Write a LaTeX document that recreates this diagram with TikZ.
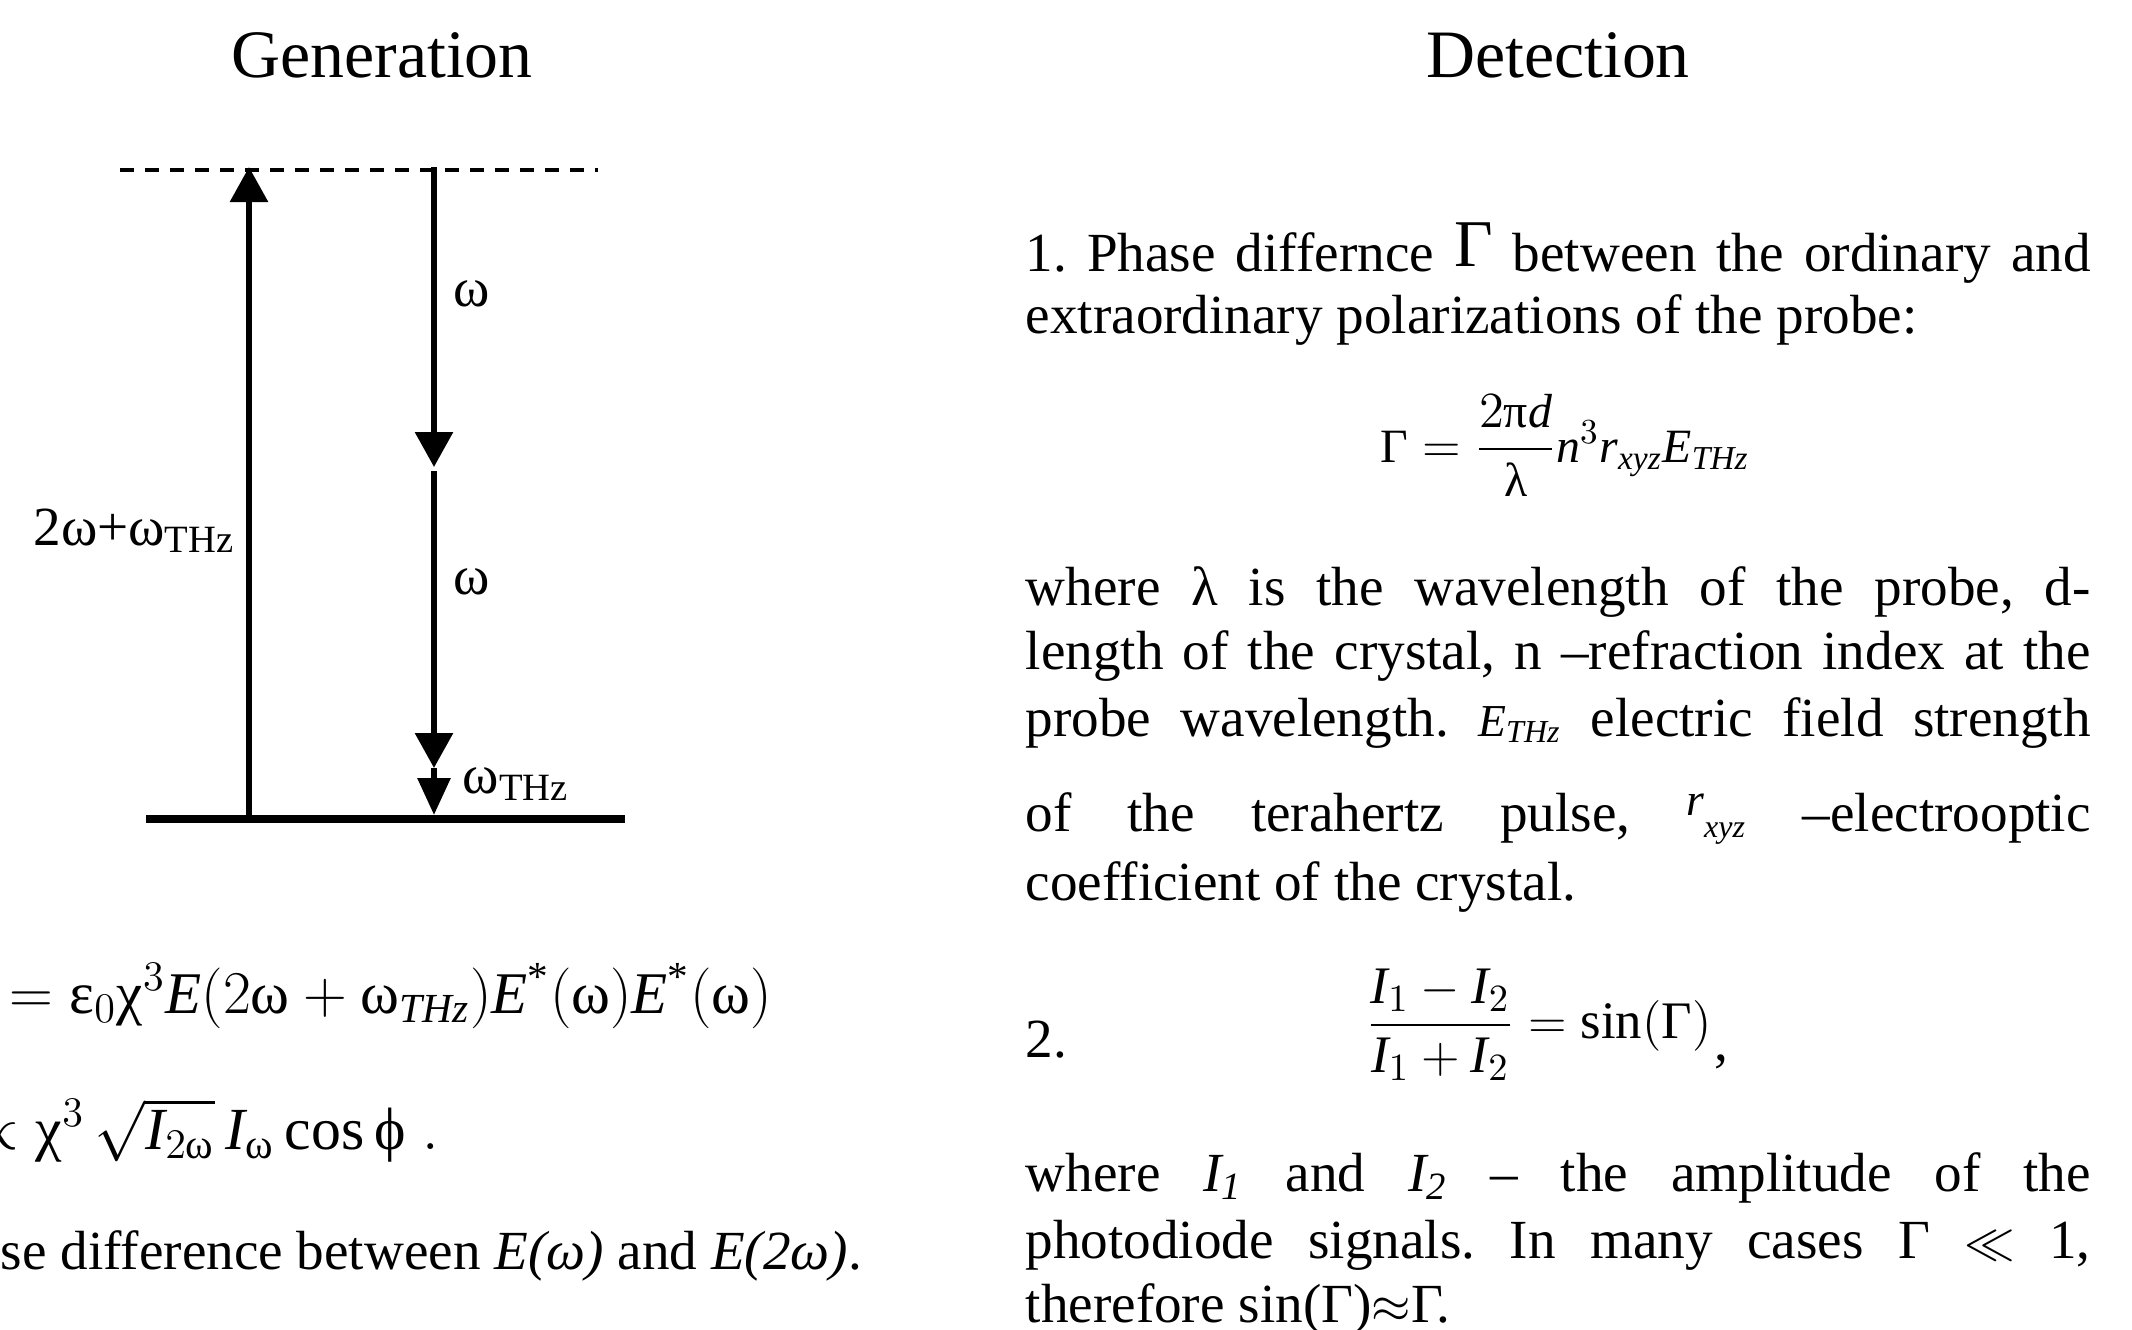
\documentclass[tikz,border=0pt]{standalone}
\usepackage{amsmath}
\usepackage{fontspec}
\setmainfont{Liberation Serif}
\usetikzlibrary{arrows.meta,positioning}
\frenchspacing

\newcommand{\body}{\fontsize{15.7}{18.4}\selectfont}
\newcommand{\head}{\fontsize{19.3}{23}\selectfont}
\newcommand{\fml}{\fontsize{17}{20}\selectfont}
\newcommand{\grk}[1]{\text{\upshape #1}}
\newcommand{\iv}[1]{\text{\itshape #1}}
\newlength{\colw}\setlength{\colw}{10.65cm}
\newcommand{\jline}[1]{\makebox[\colw][s]{#1}}
\newcommand{\ethz}{{\fontsize{13}{13}\selectfont\itshape E\textsubscript{THz}}}
\newcommand{\rxyz}{{\fontsize{13}{13}\selectfont\itshape\raisebox{.35em}{r}\textsubscript{xyz}}}

\begin{document}
\begin{tikzpicture}[
    txt/.style={anchor=base west,inner sep=0pt,font=\body},
    level/.style={line width=0.8mm},
    virt/.style={line width=0.45mm,dash pattern=on 1.4mm off 1.1mm},
    arr/.style={line width=0.6mm,-{Triangle[length=3.5mm,width=3.7mm]}},
    arrs/.style={line width=0.6mm,-{Triangle[length=3.7mm,width=3.2mm]}}
  ]
  \useasboundingbox (0,0) rectangle (21.32,-13.30);
  \clip (0,0) rectangle (21.32,-13.30);

  \node[font=\head,anchor=base] (gen) at (3.82,-0.77) {Generation};
  \node[font=\head,anchor=base] (det) at (15.58,-0.77) {Detection};

  % energy levels
  \coordinate (vl) at (1.20,-1.70);
  \coordinate (vr) at (5.98,-1.70);
  \coordinate (gl) at (1.46,-8.19);
  \coordinate (gr) at (6.25,-8.19);
  \draw[virt] (vl) -- (vr);
  \draw[level] (gl) -- (gr);

  % transitions
  \coordinate (pb) at (2.49,-8.15);
  \coordinate (pt) at (2.49,-1.67);
  \coordinate (d0) at (4.34,-1.67);
  \coordinate (d1) at (4.34,-4.67);
  \coordinate (d2) at (4.34,-4.71);
  \coordinate (d3) at (4.34,-7.68);
  \coordinate (d4) at (4.34,-8.15);
  \draw[arr] (pb) -- (pt);
  \draw[arr] (d0) -- (d1);
  \draw[arr] (d2) -- (d3);
  \draw[arrs] (d3) -- (d4);

  \node[txt] (w1) at (4.53,-3.06) {ω};
  \node[txt] (w2) at (4.53,-5.94) {ω};
  \node[txt,anchor=base east] (wsum) at (2.36,-5.45) {2ω+ω\textsubscript{THz}};
  \node[txt] (wthz) at (4.62,-7.93) {ω\textsubscript{THz}};

  % generation formulas
  \node[txt,anchor=base east,font=\fontsize{16.8}{20}\selectfont] (pol) at (7.73,-10.13)
    {${}_{\iv{z}})=\grk{ε}_{0}\grk{χ}^{3}\iv{E}(2\grk{ω}+\grk{ω}_{\iv{THz}})\iv{E}^{\text{*}}(\grk{ω})\iv{E}^{\text{*}}(\grk{ω})$};
  \node[txt,anchor=base east,font=\fml] (amp) at (4.40,-11.49)
    {$\propto\grk{χ}^{3}\,\sqrt{\iv{I}_{2\grk{ω}}}\,\iv{I}_{\grk{ω}}\cos\grk{ϕ}\;.$};
  \node[txt] (phi) at (0.00,-12.69) {se difference between \textit{E(ω)} and \textit{E(2ω)}.};

  % detection, item 1
  \node[txt] (p1a) at (10.25,-2.71)
    {\jline{1. Phase differnce \raisebox{.08em}{\fontsize{19}{19}\selectfont Γ} between the ordinary and}};
  \node[txt] (p1b) at (10.25,-3.33) {extraordinary polarizations of the probe:};
  \node[txt,font=\fontsize{13.6}{16}\selectfont] (gam) at (13.80,-4.62)
    {$\grk{Γ}=\dfrac{2\grk{π}\iv{d}}{\grk{λ}}\iv{n}^{3}\iv{r}_{\iv{xyz}}\iv{E}_{\iv{THz}}$};
  \node[txt] (p2a) at (10.25,-6.05) {\jline{where λ is the wavelength of the probe, d-}};
  \node[txt] (p2b) at (10.25,-6.69) {\jline{length of the crystal, n –refraction index at the}};
  \node[txt] (p2c) at (10.25,-7.36) {\jline{probe wavelength. \ethz{} electric field strength}};
  \node[txt] (p2d) at (10.25,-8.31) {\jline{of the terahertz pulse, \rxyz{} –electrooptic}};
  \node[txt] (p2e) at (10.25,-9.00) {coefficient of the crystal.};

  % detection, item 2
  \node[txt] (n2) at (10.25,-10.57) {2.};
  \node[txt,font=\fontsize{15}{18}\selectfont] (ratio) at (13.66,-10.38)
    {$\dfrac{\iv{I}_{1}-\iv{I}_{2}}{\iv{I}_{1}+\iv{I}_{2}}=\sin(\grk{Γ})$};
  \node[txt] (comma) at (17.14,-10.60) {,};
  \node[txt] (p3a) at (10.25,-11.91)
    {\jline{where \textit{I\textsubscript{1}} and \textit{I\textsubscript{2}} – the amplitude of the}};
  \node[txt] (p3b) at (10.25,-12.58) {\jline{photodiode signals. In many cases Γ $\ll$ 1,}};
  \node[txt] (p3c) at (10.25,-13.22) {therefore sin(Γ)$\approx$Γ.};
\end{tikzpicture}
\end{document}
